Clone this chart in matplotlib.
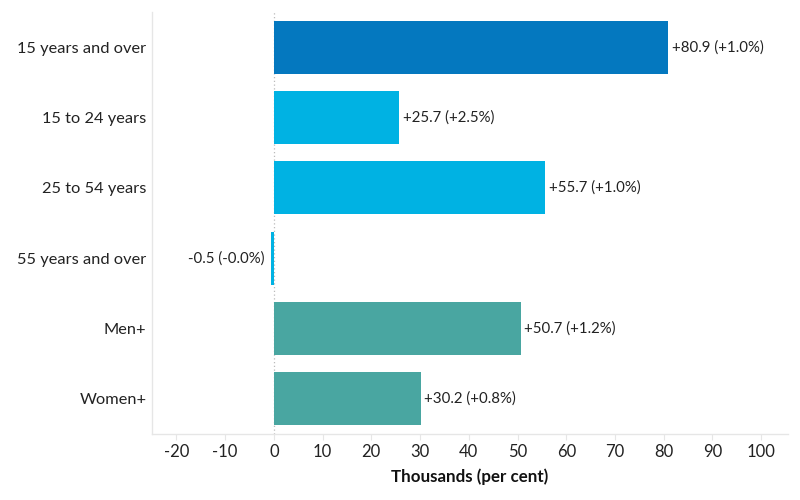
import matplotlib
matplotlib.use("Agg")
import matplotlib.pyplot as plt

categories = ["15 years and over", "15 to 24 years", "25 to 54 years",
              "55 years and over", "Men+", "Women+"]
values = [80.9, 25.7, 55.7, -0.5, 50.7, 30.2]
percents = [1.0, 2.5, 1.0, -0.0, 1.2, 0.8]
colors = ["#0478BF", "#00B2E3", "#00B2E3", "#00B2E3", "#49A6A1", "#49A6A1"]
xticks = [-20, -10, 0, 10, 20, 30, 40, 50, 60, 70, 80, 90, 100]

plt.rcParams['font.family'] = ['Lato', 'DejaVu Sans']

fig = plt.figure(figsize=(8, 5), dpi=100)
ax = fig.add_axes([0.19, 0.132, 0.795, 0.844])

ypos = list(range(len(categories)))
ax.barh(ypos, values, height=0.75, color=colors, zorder=2)
ax.axvline(0, color="#bbbbbb", linestyle=(0, (1, 2)), linewidth=0.9, zorder=1)

for y, v, p in zip(ypos, values, percents):
    label = f"{v:+.1f} ({p:+.1f}%)"
    if v >= 0:
        ax.annotate(label, (v, y), xytext=(2.5, 0), textcoords="offset points",
                    ha="left", va="center", fontsize=10.8, color="#222222")
    else:
        ax.annotate(label, (v, y), xytext=(-5, 0), textcoords="offset points",
                    ha="right", va="center", fontsize=10.8, color="#222222")

ax.set_xlim(-25, 105.5)
ax.set_ylim(5.5, -0.5)
ax.set_yticks(ypos)
ax.set_yticklabels(categories, fontsize=11.8, color="#222222")
ax.set_xticks(xticks)
ax.set_xticklabels([str(t) for t in xticks], fontsize=12, color="#222222")
ax.tick_params(axis="y", length=0, pad=4)
ax.tick_params(axis="x", length=4, color="#e6e6e6", pad=3)

for s in ["top", "right"]:
    ax.spines[s].set_visible(False)
for s in ["left", "bottom"]:
    ax.spines[s].set_color("#e6e6e6")
    ax.spines[s].set_linewidth(1)

ax.set_xlabel("Thousands (per cent)", fontsize=12.2, fontweight="bold",
              color="#111111", labelpad=6)

fig.savefig("out.png", dpi=100)
